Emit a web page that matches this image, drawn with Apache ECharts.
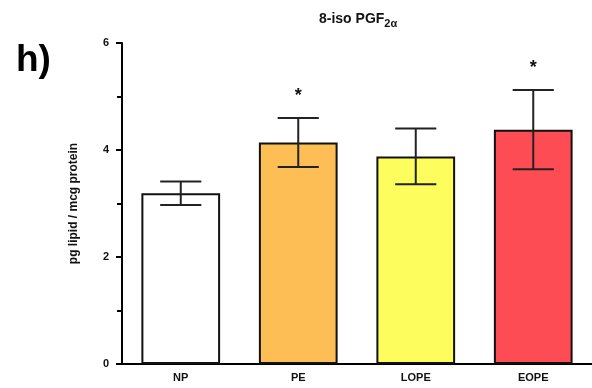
<!DOCTYPE html>
<html>
<head>
<meta charset="utf-8">
<script src="https://cdn.jsdelivr.net/npm/echarts@6/dist/echarts.min.js"></script>
<style>
  html, body { margin: 0; padding: 0; background: #fff; }
  #chart { width: 592px; height: 388px; }
</style>
</head>
<body>
<div id="chart"></div>
<script>
// Groups and measured values (mean ± SEM)
const groups = ['NP', 'PE', 'LOPE', 'EOPE'];
const means = [3.19, 4.14, 3.88, 4.38];
const errors = [0.22, 0.46, 0.52, 0.74];
const significance = ['', '*', '', '*'];
const barColors = ['#ffffff', '#fdbe55', '#fdfd5e', '#fe4c55'];
const yTicks = [0, 2, 4, 6];

const chart = echarts.init(document.getElementById('chart'), null, { renderer: 'canvas' });
const FONT = 'Liberation Sans, Arial, sans-serif';

chart.setOption({
  animation: false,
  backgroundColor: '#ffffff',
  title: {
    text: '{m|8-iso PGF}{s|2α}',
    left: 314,
    top: 4,
    textStyle: {
      rich: {
        m: { fontFamily: FONT, fontWeight: 'bold', fontSize: 14, color: '#111' },
        s: { fontFamily: FONT, fontWeight: 'bold', fontSize: 11, color: '#111', verticalAlign: 'bottom', padding: [9, 0, 0, 0] }
      }
    }
  },
  graphic: [{
    type: 'text',
    left: 16,
    top: 42,
    style: { text: 'h)', font: 'bold 37px ' + FONT, fill: '#000' }
  }],
  grid: { left: 122, right: 0, top: 43, bottom: 24 },
  xAxis: {
    type: 'category',
    data: groups,
    axisLine: { lineStyle: { color: '#000', width: 2 } },
    axisTick: { alignWithLabel: true, length: 5, lineStyle: { color: '#000', width: 2 } },
    axisLabel: { color: '#111', fontFamily: FONT, fontWeight: 'bold', fontSize: 11, margin: 8 }
  },
  yAxis: {
    type: 'value',
    min: yTicks[0],
    max: yTicks[yTicks.length - 1],
    interval: 2,
    name: 'pg lipid / mcg protein',
    nameLocation: 'middle',
    nameGap: 42,
    nameTextStyle: { color: '#111', fontFamily: FONT, fontWeight: 'bold', fontSize: 12 },
    axisLine: { show: true, lineStyle: { color: '#000', width: 2 } },
    axisTick: { show: true, length: 6, lineStyle: { color: '#000', width: 2 } },
    minorTick: { show: true, splitNumber: 2, length: 5, lineStyle: { color: '#000', width: 2 } },
    splitLine: { show: false },
    axisLabel: { color: '#111', fontFamily: FONT, fontWeight: 'bold', fontSize: 11, margin: 13 }
  },
  series: [
    {
      type: 'bar',
      data: means.map((v, i) => ({ value: v, itemStyle: { color: barColors[i] } })),
      barWidth: '67%',
      itemStyle: { borderColor: '#111', borderWidth: 2 },
      z: 2
    },
    {
      type: 'custom',
      data: means.map((v, i) => [i, v, errors[i]]),
      z: 3,
      renderItem: function (params, api) {
        const i = api.value(0);
        const m = api.value(1);
        const e = api.value(2);
        const top = api.coord([i, m + e]);
        const bot = api.coord([i, m - e]);
        const half = api.size([1, 0])[0] * 0.175;
        const style = { stroke: '#222', lineWidth: 2 };
        const children = [
          { type: 'line', shape: { x1: top[0], y1: top[1], x2: bot[0], y2: bot[1] }, style },
          { type: 'line', shape: { x1: top[0] - half, y1: top[1], x2: top[0] + half, y2: top[1] }, style },
          { type: 'line', shape: { x1: bot[0] - half, y1: bot[1], x2: bot[0] + half, y2: bot[1] }, style }
        ];
        const mark = significance[params.dataIndex];
        if (mark) {
          children.push({
            type: 'text',
            style: {
              text: mark, x: top[0], y: top[1] - 22,
              align: 'center', verticalAlign: 'middle',
              font: 'bold 18px ' + FONT, fill: '#111'
            }
          });
        }
        return { type: 'group', children };
      }
    }
  ]
});
</script>
</body>
</html>
